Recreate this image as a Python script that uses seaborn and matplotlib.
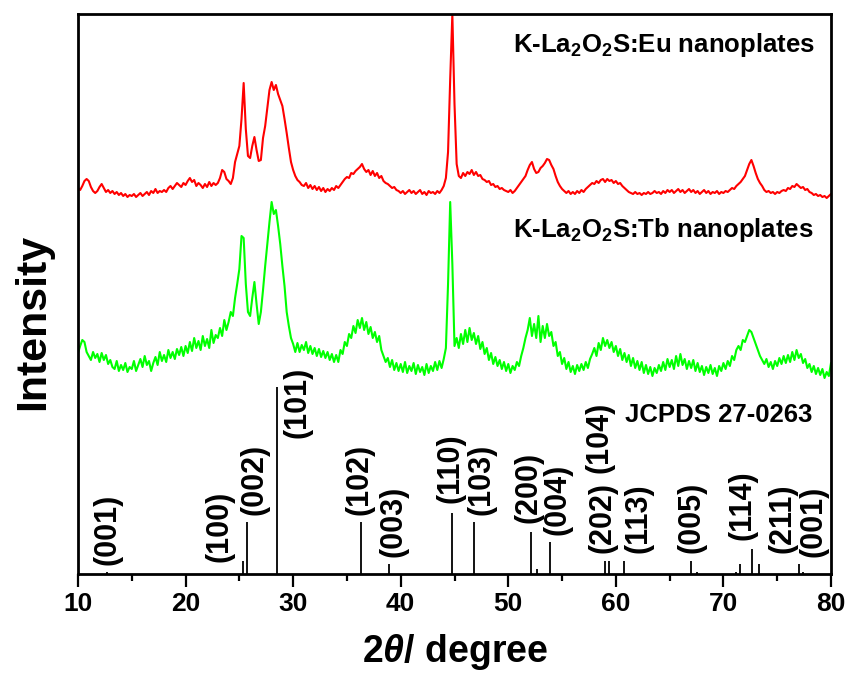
import numpy as np
import pandas as pd
import matplotlib
matplotlib.use("Agg")
import matplotlib.pyplot as plt
import seaborn as sns

# ---------------- data ----------------
scan_start, scan_stop, scan_step = 10.0, 80.0, 0.2   # 2theta scan definition

# K-La2O2S:Eu nanoplates (offset intensity, one row per degree, 0.2 deg step)
eu_intensity = [
    386, 384, 388, 393, 395,   # 10
    393, 387, 383, 381, 383,   # 11
    387, 390, 386, 382, 384,   # 12
    381, 383, 380, 382, 379,   # 13
    381, 378, 380, 377, 379,   # 14
    378, 380, 377, 379, 381,   # 15
    378, 380, 382, 379, 383,   # 16
    381, 385, 381, 383, 382,   # 17
    384, 382, 386, 388, 385,   # 18
    388, 391, 389, 387, 391,   # 19
    389, 393, 396, 392, 394,   # 20
    388, 391, 389, 386, 390,   # 21
    387, 392, 388, 391, 389,   # 22
    391, 396, 404, 402, 395,   # 23
    393, 390, 396, 412, 420,   # 24
    428, 455, 491, 445, 418,   # 25
    416, 428, 437, 424, 413,   # 26
    414, 436, 448, 466, 484,   # 27
    492, 484, 489, 480, 474,   # 28
    468, 455, 441, 426, 412,   # 29
    404, 398, 394, 392, 389,   # 30
    388, 391, 386, 389, 385,   # 31
    388, 384, 387, 383, 386,   # 32
    382, 385, 383, 386, 384,   # 33
    388, 386, 389, 392, 395,   # 34
    397, 396, 401, 400, 403,   # 35
    405, 407, 410, 405, 402,   # 36
    404, 399, 403, 398, 401,   # 37
    396, 398, 393, 391, 390,   # 38
    388, 386, 387, 384, 383,   # 39
    381, 383, 380, 382, 384,   # 40
    381, 383, 380, 382, 384,   # 41
    380, 382, 379, 383, 381,   # 42
    382, 380, 383, 381, 384,   # 43
    388, 396, 422, 495, 560,   # 44
    470, 410, 398, 396, 401,   # 45
    398, 402, 400, 404, 399,   # 46
    402, 398, 399, 395, 394,   # 47
    392, 393, 389, 390, 387,   # 48
    388, 385, 386, 384, 383,   # 49
    382, 384, 381, 383, 386,   # 50
    389, 392, 395, 398, 404,   # 51
    409, 412, 405, 401, 402,   # 52
    406, 408, 411, 415, 414,   # 53
    409, 405, 398, 392, 388,   # 54
    385, 383, 381, 383, 380,   # 55
    382, 380, 383, 381, 384,   # 56
    382, 385, 387, 389, 391,   # 57
    390, 393, 391, 394, 395,   # 58
    392, 395, 393, 394, 391,   # 59
    393, 390, 391, 388, 386,   # 60
    384, 382, 381, 380, 382,   # 61
    380, 381, 379, 381, 380,   # 62
    382, 380, 381, 383, 381,   # 63
    382, 380, 383, 381, 384,   # 64
    382, 384, 381, 383, 385,   # 65
    382, 384, 381, 383, 385,   # 66
    382, 384, 381, 383, 380,   # 67
    382, 384, 381, 383, 380,   # 68
    382, 381, 383, 380, 382,   # 69
    381, 383, 382, 384, 386,   # 70
    385, 388, 390, 392, 395,   # 71
    398, 404, 410, 414, 408,   # 72
    401, 395, 391, 388, 384,   # 73
    382, 383, 381, 382, 380,   # 74
    382, 381, 383, 384, 383,   # 75
    386, 385, 388, 387, 390,   # 76
    388, 386, 387, 384, 385,   # 77
    382, 381, 379, 380, 378,   # 78
    379, 377, 378, 376, 378,   # 79
    380,                       # 80
]

# K-La2O2S:Tb nanoplates
tb_intensity = [
    221, 228, 234, 232, 222,   # 10
    218, 214, 222, 216, 220,   # 11
    212, 221, 214, 219, 210,   # 12
    214, 207, 205, 213, 203,   # 13
    209, 204, 211, 202, 207,   # 14
    205, 213, 203, 209, 215,   # 15
    207, 218, 209, 213, 203,   # 16
    211, 217, 209, 222, 213,   # 17
    219, 212, 224, 216, 222,   # 18
    215, 225, 219, 227, 218,   # 19
    228, 221, 232, 223, 236,   # 20
    226, 233, 224, 238, 228,   # 21
    235, 226, 244, 231, 239,   # 22
    236, 246, 238, 254, 244,   # 23
    252, 262, 258, 276, 290,   # 24
    305, 338, 336, 290, 262,   # 25
    258, 276, 292, 270, 250,   # 26
    262, 284, 308, 330, 352,   # 27
    372, 360, 364, 348, 330,   # 28
    308, 288, 262, 248, 236,   # 29
    230, 222, 231, 222, 229,   # 30
    224, 232, 221, 228, 220,   # 31
    226, 218, 225, 217, 223,   # 32
    216, 222, 214, 220, 212,   # 33
    219, 212, 224, 220, 232,   # 34
    228, 240, 236, 248, 241,   # 35
    254, 246, 256, 244, 252,   # 36
    240, 247, 236, 242, 232,   # 37
    238, 224, 218, 212, 216,   # 38
    207, 214, 204, 211, 203,   # 39
    210, 202, 212, 201, 208,   # 40
    203, 211, 200, 209, 202,   # 41
    207, 199, 210, 201, 208,   # 42
    203, 212, 204, 213, 206,   # 43
    215, 226, 290, 372, 310,   # 44
    228, 236, 226, 240, 230,   # 45
    244, 232, 246, 234, 241,   # 46
    230, 238, 225, 232, 220,   # 47
    226, 214, 221, 210, 217,   # 48
    208, 214, 205, 212, 203,   # 49
    210, 201, 208, 204, 212,   # 50
    208, 218, 226, 236, 244,   # 51
    256, 238, 250, 236, 258,   # 52
    232, 248, 236, 250, 238,   # 53
    242, 228, 232, 218, 222,   # 54
    210, 216, 205, 212, 202,   # 55
    208, 200, 209, 203, 210,   # 56
    204, 212, 206, 215, 220,   # 57
    226, 218, 231, 224, 236,   # 58
    228, 234, 226, 232, 222,   # 59
    228, 218, 225, 214, 221,   # 60
    212, 219, 208, 216, 206,   # 61
    213, 204, 212, 201, 209,   # 62
    200, 207, 198, 206, 201,   # 63
    209, 203, 212, 204, 215,   # 64
    207, 214, 205, 218, 208,   # 65
    220, 209, 215, 205, 213,   # 66
    206, 214, 203, 211, 202,   # 67
    208, 199, 207, 201, 209,   # 68
    200, 206, 198, 208, 203,   # 69
    211, 205, 213, 208, 218,   # 70
    214, 224, 228, 224, 234,   # 71
    232, 238, 244, 242, 236,   # 72
    230, 224, 218, 214, 210,   # 73
    215, 207, 212, 205, 213,   # 74
    208, 216, 210, 218, 211,   # 75
    219, 212, 222, 214, 224,   # 76
    216, 220, 211, 215, 206,   # 77
    210, 202, 208, 200, 206,   # 78
    199, 205, 196, 202, 198,   # 79
    211,                       # 80
]

# JCPDS 27-0263 reference lines
jcpds_pos = [12.7, 25.3, 25.7, 28.5, 36.3, 38.9, 44.8, 46.8, 52.1, 52.7, 53.9,
             59.0, 59.4, 60.8, 67.0, 67.5, 71.2, 71.5, 72.7, 73.3, 77.0, 77.4]
jcpds_int = [2, 13, 52, 187, 52, 10, 61, 52, 42, 5, 32,
             13, 13, 13, 13, 2, 2, 10, 25, 10, 10, 2]

hkl_labels = ['(001)', '(100)', '(002)', '(101)', '(102)', '(003)', '(110)',
              '(103)', '(200)', '(004)', '(202)', '(104)', '(113)', '(005)',
              '(114)', '(211)', '(001)']
x_ticks = [10, 20, 30, 40, 50, 60, 70, 80]

# ---------------- layout (annotation anchors) ----------------
hkl_x = [12.7, 23.2, 26.45, 30.45, 36.2, 39.3, 44.6, 47.55, 51.85, 54.6,
         58.8, 58.45, 62.1, 67.0, 71.8, 75.45, 78.35]
hkl_y = [9, 12, 59, 136, 59, 17, 71, 59, 51, 39, 21, 101, 21, 21, 34, 21, 17]

# ---------------- build ----------------
two_theta = np.round(np.arange(scan_start, scan_stop + scan_step / 2, scan_step), 2)
assert len(two_theta) == len(eu_intensity) == len(tb_intensity)

df = pd.concat([
    pd.DataFrame({'2theta': two_theta, 'I': eu_intensity, 'sample': 'Eu'}),
    pd.DataFrame({'2theta': two_theta, 'I': tb_intensity, 'sample': 'Tb'}),
])

sns.set_theme(style='white')
plt.rcParams['font.family'] = ['Liberation Sans', 'DejaVu Sans']
plt.rcParams['font.weight'] = 'bold'
plt.rcParams['text.color'] = 'black'
plt.rcParams['xtick.color'] = 'black'
plt.rcParams['xtick.labelcolor'] = 'black'
plt.rcParams['axes.labelcolor'] = 'black'
plt.rcParams['mathtext.fontset'] = 'custom'
plt.rcParams['mathtext.rm'] = 'Liberation Sans:bold'
plt.rcParams['mathtext.bf'] = 'Liberation Sans:bold'
plt.rcParams['mathtext.it'] = 'Liberation Sans:italic'
plt.rcParams['mathtext.default'] = 'rm'

fig = plt.figure(figsize=(8.5, 6.73), dpi=100)
ax = fig.add_axes([78 / 850, 1 - 574 / 673, 753 / 850, 560 / 673])

sns.lineplot(data=df, x='2theta', y='I', hue='sample',
             palette={'Eu': '#ff0000', 'Tb': '#00ff00'},
             linewidth=1.5, legend=False, ax=ax, estimator=None, sort=False)

ax.vlines(jcpds_pos, 0, jcpds_int, colors='black', linewidth=1.3)

lab_kw = dict(rotation=90, ha='center', va='bottom', fontsize=22,
              fontweight='bold', color='black')
for t, x, y in zip(hkl_labels, hkl_x, hkl_y):
    ax.text(x, y, t, **lab_kw)

ax.text(50.45, 522, 'K-La$_2$O$_2$S:Eu nanoplates', fontsize=18.5,
        fontweight='bold', va='baseline', ha='left', color='black')
ax.text(50.45, 337, 'K-La$_2$O$_2$S:Tb nanoplates', fontsize=18.5,
        fontweight='bold', va='baseline', ha='left', color='black')
ax.text(60.85, 152, 'JCPDS 27-0263', fontsize=18.5,
        fontweight='bold', va='baseline', ha='left', color='black')

ax.set_xlim(10, 80)
ax.set_ylim(0, 560)
ax.set_xticks(x_ticks)
ax.set_xticklabels([str(v) for v in x_ticks], fontsize=19, fontweight='bold',
                   color='black')
ax.set_xticks([15, 25, 35, 45, 55, 65, 75], minor=True)
ax.set_yticks([])
ax.tick_params(axis='x', which='major', direction='out', length=9, width=1.6,
               pad=4, color='black', bottom=True, top=False)
ax.tick_params(axis='x', which='minor', direction='out', length=5, width=1.6,
               bottom=True, top=False, color='black')
for s in ax.spines.values():
    s.set_visible(True)
    s.set_color('black')
    s.set_linewidth(2.0)
ax.set_xlabel('')
ax.set_ylabel('')

fig.text(455 / 850, 1 - 652 / 673, r'2$\mathit{\theta}$/ degree', fontsize=27,
         fontweight='bold', ha='center', va='center', color='black')
fig.text(33 / 850, 1 - 322 / 673, 'Intensity', fontsize=31, fontweight='bold',
         rotation=90, ha='center', va='center', color='black')

fig.savefig('out.png', dpi=100, facecolor='white')
